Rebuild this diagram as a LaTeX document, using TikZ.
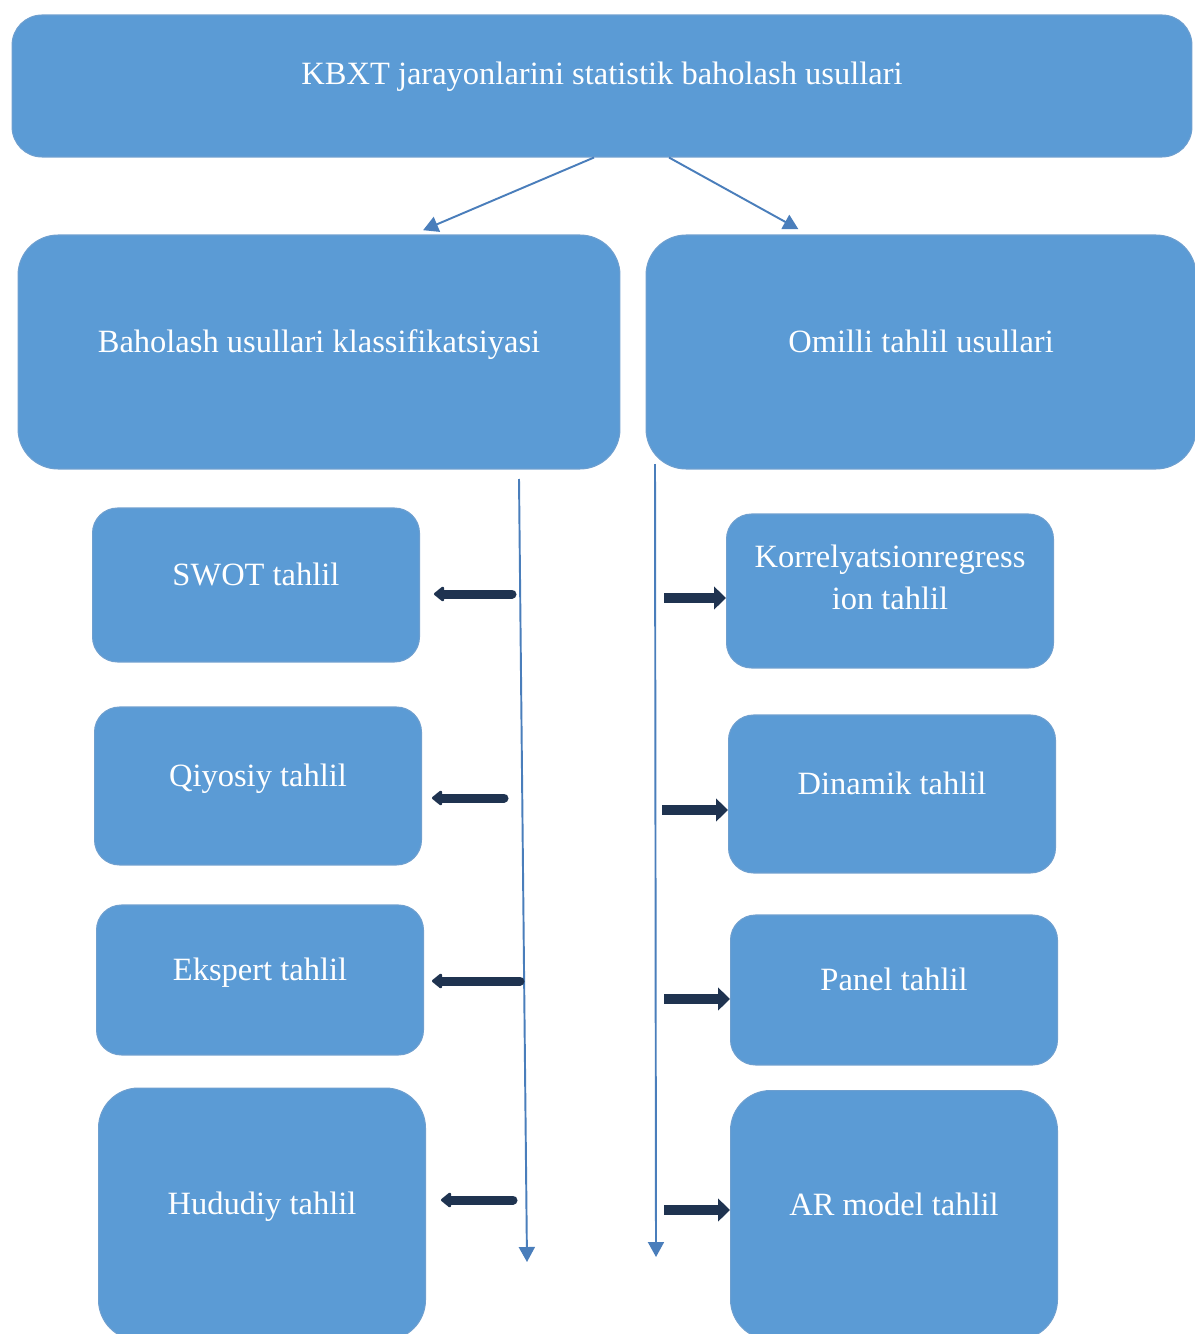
\documentclass[tikz,border=0pt]{standalone}
\usepackage{fontspec}
\setmainfont{Liberation Serif}
\usetikzlibrary{arrows.meta}

\definecolor{boxblue}{HTML}{5B9BD5}
\definecolor{boxedge}{HTML}{6E9FCF}
\definecolor{linkblue}{HTML}{4A7EBB}
\definecolor{navy}{HTML}{1F3350}

\begin{document}
\begin{tikzpicture}[
	x=0.02cm, y=-0.02cm,
	box/.style={ rounded corners=0.5cm, fill=boxblue, draw=boxedge, line width=0.6pt, text=white, font=\fontsize{18.5}{24}\selectfont, align=center, inner sep=0pt, text height=0.7em, text depth=0.24cm },
	bigbox/.style={ box, rounded corners=0.8cm },
	link/.style={ linkblue, line width=1.1pt, -{Triangle[width=0.32cm,length=0.3cm]} },
	fatleft/.style={ navy, line width=0.18cm, line cap=round, -{Triangle[width=0.34cm,length=0.22cm,round]} },
	fatright/.style={ navy, line width=0.21cm, -{Triangle[width=0.45cm,length=0.24cm]} }
]
\useasboundingbox (0,0) rectangle (1194,1334);

\node at (602,86) (top) [box, rounded corners=0.6cm, minimum width=23.6cm, minimum height=2.84cm, text depth=0.3cm] {KBXT jarayonlarini statistik baholash usullari};
\node at (319,352) (lm) [bigbox, minimum width=12.04cm, minimum height=4.68cm] {Baholash usullari klassifikatsiyasi};
\node at (921,352) (rm) [bigbox, minimum width=11.0cm, minimum height=4.68cm] {Omilli tahlil usullari};

\node at (256,585) (swot) [box, minimum width=6.54cm, minimum height=3.08cm] {SWOT tahlil};
\node at (258,786) (qiyos) [box, minimum width=6.54cm, minimum height=3.16cm] {Qiyosiy tahlil};
\node at (260,980) (ekspert) [box, minimum width=6.54cm, minimum height=3.0cm] {Ekspert tahlil};
\node at (262,1214) (hudud) [bigbox, minimum width=6.54cm, minimum height=5.04cm] {Hududiy tahlil};

\node at (890,591) (korr) [box, minimum width=6.54cm, minimum height=3.08cm, text height=, text depth=0.55cm] {Korrelyatsionregress\\ion tahlil};
\node at (892,794) (dinamik) [box, minimum width=6.54cm, minimum height=3.16cm] {Dinamik tahlil};
\node at (894,990) (panel) [box, minimum width=6.54cm, minimum height=3.0cm] {Panel tahlil};
\node at (894,1215) (armodel) [bigbox, minimum width=6.54cm, minimum height=4.98cm] {AR model tahlil};

% from the title down to the two groups
\draw[link, shorten >=0.22cm] ([xshift=-0.16cm]top.south) -- ([xshift=1.88cm]lm.north);
\draw[link, shorten >=0.22cm] ([xshift=1.34cm]top.south) -- ([xshift=-2.26cm]rm.north);

% the two long lines
\coordinate (v1) at (519,479);
\coordinate (v2) at (527,1262);
\coordinate (w1) at (655,464);
\coordinate (w2) at (656,1257);
\draw[link] (v1) -- (v2);
\draw[link] (w1) -- (w2);

% left group
\coordinate (l1) at (512,594);
\coordinate (l2) at (504,798);
\coordinate (l3) at (520,981);
\coordinate (l4) at (513,1200);
\draw[fatleft, shorten >=0.28cm] (l1) -- (l1 -| swot.east);
\draw[fatleft, shorten >=0.2cm] (l2) -- (l2 -| qiyos.east);
\draw[fatleft, shorten >=0.16cm] (l3) -- (l3 -| ekspert.east);
\draw[fatleft, shorten >=0.3cm] (l4) -- (l4 -| hudud.east);

% right group
\coordinate (r1) at (664,598);
\coordinate (r2) at (662,810);
\coordinate (r3) at (664,999);
\coordinate (r4) at (664,1210);
\draw[fatright] (r1) -- (r1 -| korr.west);
\draw[fatright] (r2) -- (r2 -| dinamik.west);
\draw[fatright] (r3) -- (r3 -| panel.west);
\draw[fatright] (r4) -- (r4 -| armodel.west);

\end{tikzpicture}
\end{document}
